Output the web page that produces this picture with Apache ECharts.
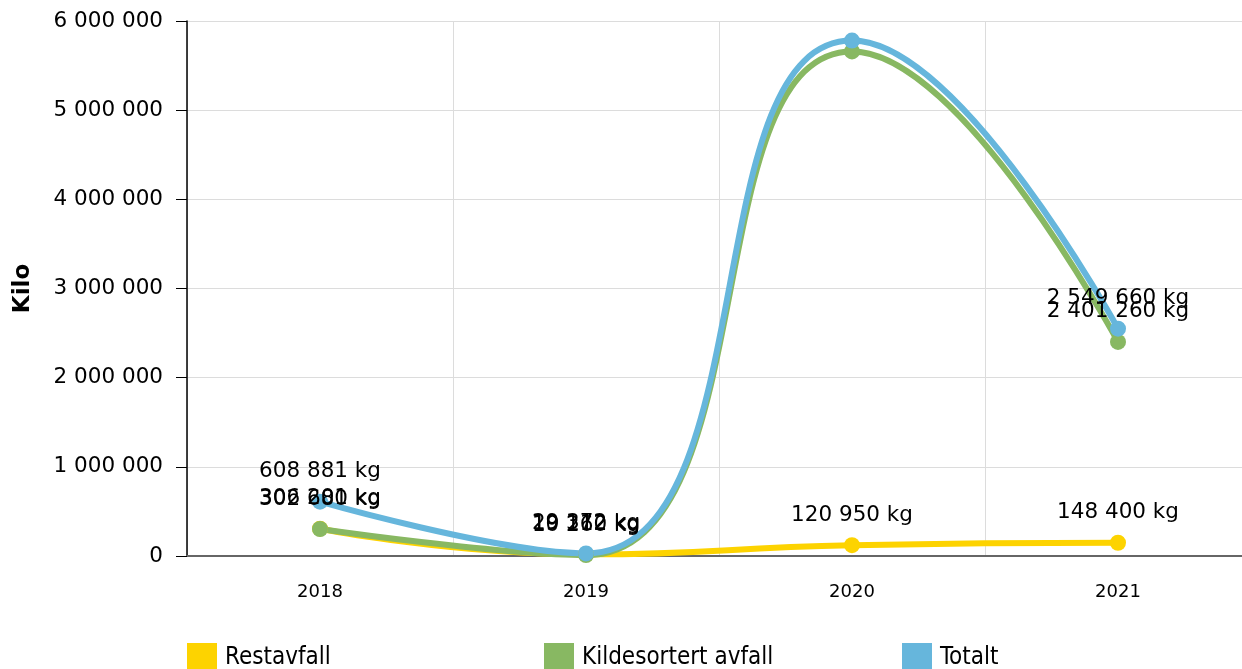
<!DOCTYPE html>
<html>
<head>
<meta charset="utf-8">
<script src="https://cdn.jsdelivr.net/npm/echarts@6/dist/echarts.min.js"></script>
<style>
  html, body { margin: 0; padding: 0; background: #fff; overflow: hidden; }
  #main { width: 1252px; height: 669px; }
</style>
</head>
<body>
<div id="main"></div>
<script>
// årstall
var years = ['2018', '2019', '2020', '2021'];
// verdier i kg
var restavfall = [306201, 19112, 120950, 148400];
var kildesortert = [302680, 10260, 5659050, 2401260];
var totalt = [608881, 29372, 5780000, 2549660];
// etiketter som ikke vises (utenfor plottet)
var skjulKilde = [2];
var skjulTotalt = [2];

var yTicks = { min: 0, max: 6000000, interval: 1000000 };

function fmt(v) {
  return String(Math.round(v)).replace(/\B(?=(\d{3})+(?!\d))/g, ' ');
}

function lag(navn, data, farge, skjul) {
  return {
    name: navn,
    type: 'line',
    smooth: 0.5,
    data: data.map(function (v, i) {
      return skjul.indexOf(i) >= 0 ? { value: v, label: { show: false } } : v;
    }),
    symbol: 'circle',
    symbolSize: 16,
    lineStyle: { width: 6, color: farge },
    itemStyle: { color: farge },
    label: {
      show: true,
      position: 'top',
      distance: 11,
      color: '#000',
      fontFamily: 'DejaVu Sans',
      fontSize: 21.5,
      formatter: function (p) { return fmt(p.value) + ' kg'; }
    }
  };
}

var chart = echarts.init(document.getElementById('main'));
var legendBase = {
  bottom: -9,
  itemWidth: 30,
  itemHeight: 30,
  itemGap: 8,
  icon: 'rect',
  textStyle: { fontFamily: 'DejaVu Sans Condensed', fontSize: 24, color: '#000', padding: [0, 0, 0, 3] }
};
chart.setOption({
  animation: false,
  grid: { left: 187, right: 1, top: 21, bottom: 113, outerBoundsMode: 'none' },
  legend: [
    Object.assign({ left: 182, data: ['Restavfall'] }, legendBase),
    Object.assign({ left: 539, data: ['Kildesortert avfall'] }, legendBase),
    Object.assign({ left: 897, data: ['Totalt'] }, legendBase)
  ],
  xAxis: {
    type: 'category',
    data: years,
    boundaryGap: true,
    axisLine: { lineStyle: { color: '#666', width: 2 } },
    axisTick: { alignWithLabel: true, length: 8, lineStyle: { color: '#bbb' } },
    axisLabel: { color: '#000', fontFamily: 'DejaVu Sans', fontSize: 18, margin: 27 },
    splitLine: { show: true, lineStyle: { color: '#dcdcdc' } }
  },
  yAxis: {
    type: 'value',
    min: yTicks.min,
    max: yTicks.max,
    interval: yTicks.interval,
    name: 'Kilo',
    nameLocation: 'middle',
    nameGap: 152,
    nameTextStyle: { fontFamily: 'DejaVu Sans', fontWeight: 'bold', fontSize: 23, color: '#000' },
    axisLine: { show: true, lineStyle: { color: '#000', width: 1.5 } },
    axisTick: { show: true, length: 11, lineStyle: { color: '#000' } },
    axisLabel: { color: '#000', fontFamily: 'DejaVu Sans', fontSize: 21.5, margin: 24, formatter: fmt },
    splitLine: { lineStyle: { color: '#dcdcdc' } }
  },
  series: [
    lag('Restavfall', restavfall, '#fdd300', []),
    lag('Kildesortert avfall', kildesortert, '#88b862', skjulKilde),
    lag('Totalt', totalt, '#66b6dc', skjulTotalt)
  ]
});
</script>
</body>
</html>
